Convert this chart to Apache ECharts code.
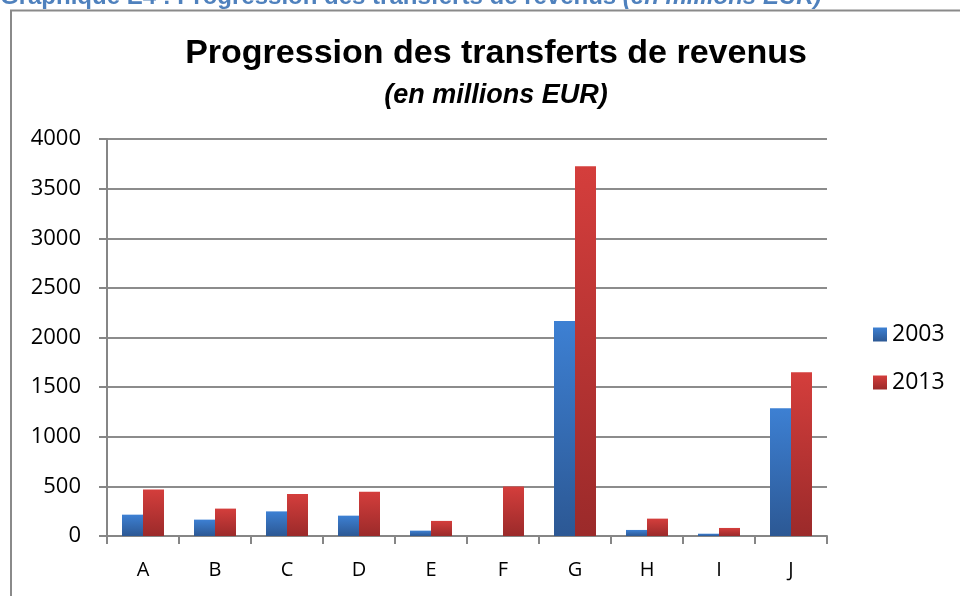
<!DOCTYPE html>
<html>
<head>
<meta charset="utf-8">
<script src="https://cdn.jsdelivr.net/npm/echarts@6/dist/echarts.min.js"></script>
<style>
html, body { margin: 0; padding: 0; background: #fff; }
#main { width: 960px; height: 596px; }
</style>
</head>
<body>
<div id="main"></div>
<script>
// donnees
var categories = ["A", "B", "C", "D", "E", "F", "G", "H", "I", "J"];
var values2003 = [215, 165, 248, 205, 54, 0, 2165, 61, 23, 1286];
var values2013 = [468, 276, 424, 447, 152, 500, 3725, 175, 81, 1650];
var seriesNames = ["2003", "2013"];

var chart = echarts.init(document.getElementById("main"));

function grad(top, bottom) {
    return new echarts.graphic.LinearGradient(0, 0, 0, 1, [
        { offset: 0, color: top },
        { offset: 1, color: bottom }
    ]);
}

var option = {
    backgroundColor: "#fff",
    animation: false,
    title: [{
        text: "Progression des transferts de revenus",
        left: 491, top: 32, textAlign: "center",
        textStyle: { fontFamily: "Liberation Sans", fontWeight: "bold", fontSize: 34, color: "#000" }
    }, {
        text: "(en millions EUR)",
        left: 491, top: 77, textAlign: "center",
        textStyle: { fontFamily: "Liberation Sans", fontWeight: "bold", fontStyle: "italic", fontSize: 27, color: "#000" }
    }],
    graphic: [{
        type: "rect",
        shape: { x: 11, y: 10.5, width: 960, height: 600 },
        style: { fill: "none", stroke: "#8a8a8a", lineWidth: 2 }
    }, {
        type: "text",
        left: 0, top: -15,
        style: {
            text: "{b|Graphique E4 : Progression des transferts de revenus }{i|(en millions EUR)}",
            rich: {
                b: { fontFamily: "Liberation Sans", fontWeight: "bold", fontSize: 24, fill: "#4f81bd" },
                i: { fontFamily: "Liberation Sans", fontWeight: "bold", fontStyle: "italic", fontSize: 24, fill: "#4f81bd" }
            }
        }
    }],
    legend: {
        orient: "vertical",
        left: 868, top: 318,
        itemWidth: 14, itemHeight: 14, itemGap: 25,
        icon: "rect",
        textStyle: { fontFamily: "Open Sans", fontSize: 23, color: "#000" },
        data: seriesNames
    },
    grid: { left: 107, right: 133, top: 139, bottom: 60 },
    xAxis: {
        type: "category",
        data: categories,
        axisLine: { lineStyle: { color: "#868686", width: 2 } },
        axisTick: { show: true, length: 8, lineStyle: { color: "#868686", width: 2 } },
        axisLabel: { fontFamily: "Open Sans", fontSize: 20, color: "#000", margin: 24 }
    },
    yAxis: {
        type: "value",
        min: 0, max: 4000, interval: 500,
        axisLine: { show: true, lineStyle: { color: "#868686", width: 2 } },
        axisTick: { show: true, length: 8, lineStyle: { color: "#868686", width: 2 } },
        axisLabel: {
            fontFamily: "Open Sans", fontSize: 22, color: "#000", margin: 26,
            formatter: function (v) { return String(v); }
        },
        splitLine: { lineStyle: { color: "#8c8c8c", width: 2 } }
    },
    series: [{
        name: seriesNames[0],
        type: "bar",
        data: values2003,
        barWidth: 21,
        barGap: "0%",
        itemStyle: { color: grad("#3d80d3", "#2c5894") }
    }, {
        name: seriesNames[1],
        type: "bar",
        data: values2013,
        barWidth: 21,
        barGap: "0%",
        itemStyle: { color: grad("#d43e3c", "#9b2a2a") }
    }]
};
chart.setOption(option);
</script>
</body>
</html>
